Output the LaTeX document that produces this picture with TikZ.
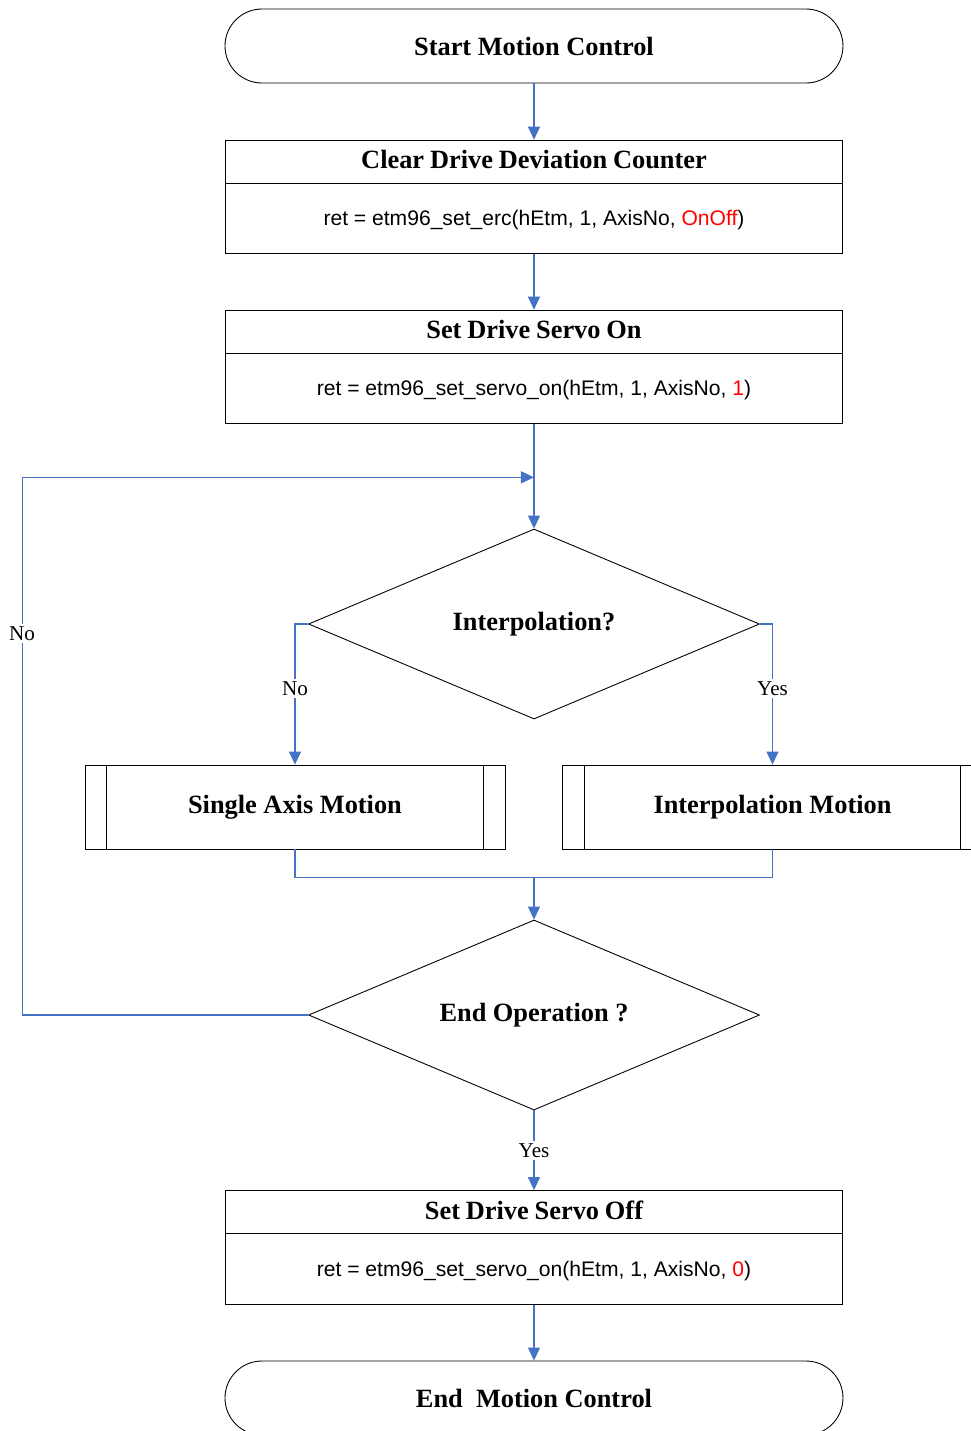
\documentclass[tikz,border=0pt]{standalone}
\usepackage{fontspec}
\setmainfont{Liberation Serif}
\setsansfont{Liberation Sans}
\usepackage{tikz}
\usetikzlibrary{shapes,arrows.meta,positioning}
\definecolor{flowblue}{RGB}{68,114,196}
\newcommand{\titlepart}[1]{\rule[-0.28cm]{0pt}{0.84cm}\fontsize{15}{18}\selectfont\bfseries #1}
\newcommand{\codepart}[1]{\rule[-0.55cm]{0pt}{1.4cm}\fontsize{12}{14}\selectfont\sffamily #1}

\begin{document}
\begin{tikzpicture}[node distance=3cm]

\tikzstyle{terminal} = [rectangle, rounded corners=0.74cm, minimum width=12.36cm, minimum height=1.48cm, text centered, draw=black, line width=0.5pt, font=\fontsize{15}{18}\selectfont\bfseries]
\tikzstyle{codebox} = [rectangle split, rectangle split parts=2, text width=12.34cm, align=center, inner xsep=0pt, inner ysep=0pt, draw=black, line width=0.5pt]
\tikzstyle{decision} = [diamond, aspect=2.37, minimum width=9.02cm, minimum height=3.8cm, inner sep=0pt, text centered, draw=black, line width=0.5pt, font=\fontsize{15}{18}\selectfont\bfseries]
\tikzstyle{subproc} = [rectangle, minimum width=8.4cm, minimum height=1.68cm, text centered, draw=black, line width=0.5pt, font=\fontsize{15}{18}\selectfont\bfseries]
\tikzstyle{flowline} = [draw=flowblue, line width=0.6pt]
\tikzstyle{arrow} = [flowline, -{Triangle[length=0.26cm,width=0.24cm]}]
\tikzstyle{lbl} = [fill=white, inner sep=1.5pt, font=\fontsize{12}{14}\selectfont]

\useasboundingbox (-10.68,0.92) rectangle (8.74,-27.7);

\node (start) [terminal] {Start Motion Control};
\node (clear) [codebox, below of=start, yshift=-0.02cm] {\titlepart{Clear Drive Deviation Counter}\nodepart{second}\codepart{ret = etm96\_set\_erc(hEtm, 1, AxisNo, \textcolor{red}{OnOff})}};
\node (servoon) [codebox, below of=clear, yshift=-0.4cm] {\titlepart{Set Drive Servo On}\nodepart{second}\codepart{ret = etm96\_set\_servo\_on(hEtm, 1, AxisNo, \textcolor{red}{1})}};
\node (dec1) [decision, below of=servoon, yshift=-2.14cm] {Interpolation?};
\node (sam) [subproc, below of=dec1, xshift=-4.78cm, yshift=-0.66cm] {Single Axis Motion};
\node (ipm) [subproc, below of=dec1, xshift=4.77cm, yshift=-0.66cm] {Interpolation Motion};
\node (dec2) [decision, below of=dec1, yshift=-4.82cm] {End Operation ?};
\node (servooff) [codebox, below of=dec2, yshift=-1.65cm] {\titlepart{Set Drive Servo Off}\nodepart{second}\codepart{ret = etm96\_set\_servo\_on(hEtm, 1, AxisNo, \textcolor{red}{0})}};
\node (end) [terminal, below of=servooff, yshift=-0.01cm] {End\ \ Motion Control};

\coordinate [below=1.06cm of servoon] (join);
\coordinate [yshift=-0.56cm] (merge) at (sam.south -| dec2.north);

% side bars of the sub-process boxes
\draw [line width=0.5pt] ([xshift=0.44cm]sam.north west) -- ([xshift=0.44cm]sam.south west);
\draw [line width=0.5pt] ([xshift=-0.44cm]sam.north east) -- ([xshift=-0.44cm]sam.south east);
\draw [line width=0.5pt] ([xshift=0.44cm]ipm.north west) -- ([xshift=0.44cm]ipm.south west);
\draw [line width=0.5pt] ([xshift=-0.44cm]ipm.north east) -- ([xshift=-0.44cm]ipm.south east);

\draw [arrow] (start.south) -- (clear.north);
\draw [arrow] (clear.south) -- (servoon.north);
\draw [arrow] (servoon.south) -- (dec1.north);
\draw [arrow] (dec1.west) -| node[lbl, pos=0.73] {No} (sam.north);
\draw [arrow] (dec1.east) -| node[lbl, pos=0.73] {Yes} (ipm.north);
\draw [flowline] (sam.south) |- (merge);
\draw [flowline] (ipm.south) |- (merge);
\draw [arrow] (merge) -- (dec2.north);
\draw [arrow] (dec2.west) -- ++(-5.72cm,0) |- node[lbl, pos=0.355] {No} (join);
\draw [arrow] (dec2.south) -- node[lbl] {Yes} (servooff.north);
\draw [arrow] (servooff.south) -- (end.north);

\end{tikzpicture}
\end{document}
